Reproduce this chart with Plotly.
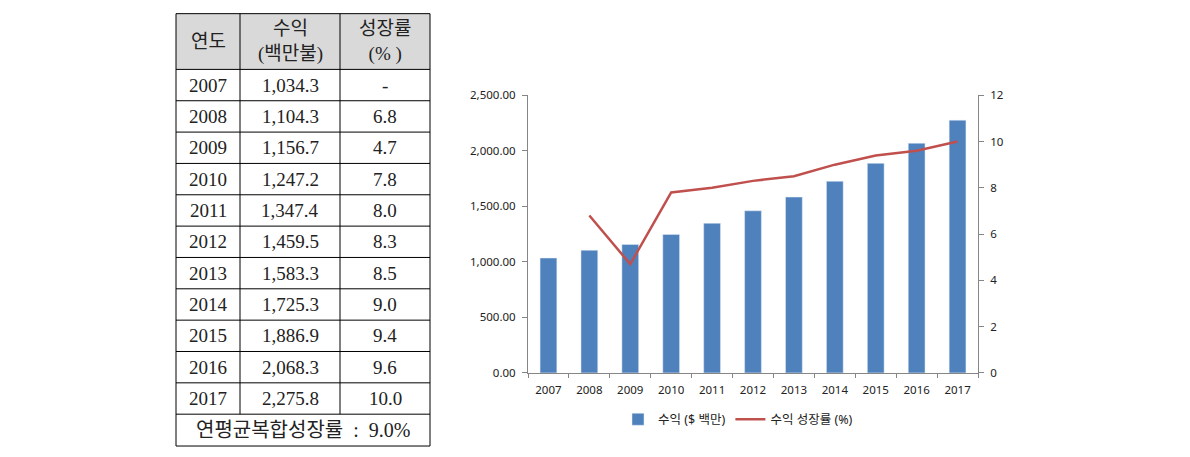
import plotly.graph_objects as go

# ---- data ----
years = ["2007", "2008", "2009", "2010", "2011", "2012", "2013", "2014", "2015", "2016", "2017"]
revenue = [1034.3, 1104.3, 1156.7, 1247.2, 1347.4, 1459.5, 1583.3, 1725.3, 1886.9, 2068.3, 2275.8]
growth = [None, 6.8, 4.7, 7.8, 8.0, 8.3, 8.5, 9.0, 9.4, 9.6, 10.0]
revenue_text = ["1,034.3", "1,104.3", "1,156.7", "1,247.2", "1,347.4", "1,459.5",
                "1,583.3", "1,725.3", "1,886.9", "2,068.3", "2,275.8"]
growth_text = ["-", "6.8", "4.7", "7.8", "8.0", "8.3", "8.5", "9.0", "9.4", "9.6", "10.0"]
table_headers = ["연도", "수익<br>(백만불)", "성장률<br>(% )"]
cagr_label = "연평균복합성장률  :  9.0%"
bar_name = "수익 ($ 백만)"
line_name = "수익 성장률 (%)"

W, H = 1190, 457
# vertical calibration of the photographed page
V_OFF, V_SCALE = 6.3, 0.972


def px(x):
    return x / W


def py(y):
    return 1 - ((y - V_OFF) / V_SCALE) / H


serif = "Liberation Serif, Noto Sans CJK KR, serif"
sans = "Noto Sans, Noto Sans CJK KR, sans-serif"
tcol = "#222222"

fig = go.Figure()

# ---- table (drawn from the data lists) ----
col_edges = [176, 240, 340, 430]
tbl_top, header_h, row_h, footer_h = 12, 56, 31.5, 32
header_bottom = tbl_top + header_h
rows_bottom = header_bottom + row_h * len(years)
footer_bottom = rows_bottom + footer_h

shapes = []
shapes.append(dict(type="rect", xref="paper", yref="paper",
                   x0=px(col_edges[0]), x1=px(col_edges[-1]), y0=py(header_bottom), y1=py(tbl_top),
                   fillcolor="#d9d9d9", line=dict(width=0), layer="below"))
h_lines = [tbl_top, header_bottom] + [header_bottom + row_h * (i + 1) for i in range(len(years))] + [footer_bottom]
for yy in h_lines:
    shapes.append(dict(type="line", xref="paper", yref="paper",
                       x0=px(col_edges[0]), x1=px(col_edges[-1]), y0=py(yy), y1=py(yy),
                       line=dict(color="black", width=1)))
for j, xx in enumerate(col_edges):
    bottom = footer_bottom if j in (0, len(col_edges) - 1) else rows_bottom
    shapes.append(dict(type="line", xref="paper", yref="paper",
                       x0=px(xx), x1=px(xx), y0=py(bottom), y1=py(tbl_top),
                       line=dict(color="black", width=1)))

annotations = []
columns = [years, revenue_text, growth_text]
for j, head in enumerate(table_headers):
    cx = (col_edges[j] + col_edges[j + 1]) / 2
    annotations.append(dict(xref="paper", yref="paper", x=px(cx), y=py(tbl_top + header_h / 2),
                            text=head, showarrow=False, xanchor="center", yanchor="middle",
                            align="center", font=dict(family=serif, size=19, color=tcol)))
    for i, val in enumerate(columns[j]):
        cy = header_bottom + row_h * (i + 0.5)
        annotations.append(dict(xref="paper", yref="paper", x=px(cx), y=py(cy),
                                text=val, showarrow=False, xanchor="center", yanchor="middle",
                                font=dict(family=serif, size=19, color=tcol)))
annotations.append(dict(xref="paper", yref="paper",
                        x=px((col_edges[0] + col_edges[-1]) / 2), y=py((rows_bottom + footer_bottom) / 2),
                        text=cagr_label, showarrow=False, xanchor="center", yanchor="middle",
                        font=dict(family=serif, size=20, color=tcol)))

# ---- chart ----
fig.add_trace(go.Bar(
    x=years, y=revenue, name=bar_name, marker=dict(color="#4f81bd"),
    yaxis="y", xaxis="x",
))
fig.add_trace(go.Scatter(
    x=years, y=growth, name=line_name, mode="lines",
    line=dict(color="#c0504d", width=2.5), yaxis="y2", xaxis="x",
))

axis_col = "#868686"
tick_font = dict(family=sans, size=11.5, color="#222222")

fig.update_layout(
    width=W, height=H,
    margin=dict(l=0, r=0, t=0, b=0),
    paper_bgcolor="white", plot_bgcolor="white",
    bargap=0.59,
    showlegend=True,
    shapes=shapes,
    annotations=annotations,
    legend=dict(orientation="h", x=px(738), y=py(420), xanchor="center", yanchor="middle",
                font=dict(family=sans, size=12.5, color="#222222"), bgcolor="rgba(0,0,0,0)",
                itemwidth=30),
    xaxis=dict(
        domain=[px(528), px(978)], anchor="y",
        type="category", showgrid=False, showline=True, linecolor=axis_col, linewidth=1,
        ticks="outside", ticklen=4, tickcolor=axis_col, tickson="boundaries",
        tickfont=tick_font, ticklabelstandoff=6,
    ),
    yaxis=dict(
        domain=[py(373), py(94)], anchor="x",
        range=[0, 2500], dtick=500, tickformat=",.2f", showgrid=False,
        showline=True, linecolor=axis_col, linewidth=1, zeroline=False,
        ticks="outside", ticklen=5, tickcolor=axis_col, tickfont=tick_font,
        ticklabelstandoff=4,
    ),
    yaxis2=dict(
        domain=[py(373), py(94)], anchor="x", overlaying="y", side="right",
        range=[0, 12], dtick=2, showgrid=False,
        showline=True, linecolor=axis_col, linewidth=1, zeroline=False,
        ticks="outside", ticklen=5, tickcolor=axis_col, tickfont=tick_font,
        ticklabelstandoff=4,
    ),
)

fig.write_html("out.html", config={"displayModeBar": False},
               post_script="document.body.style.margin='0';document.body.style.overflow='hidden';")
